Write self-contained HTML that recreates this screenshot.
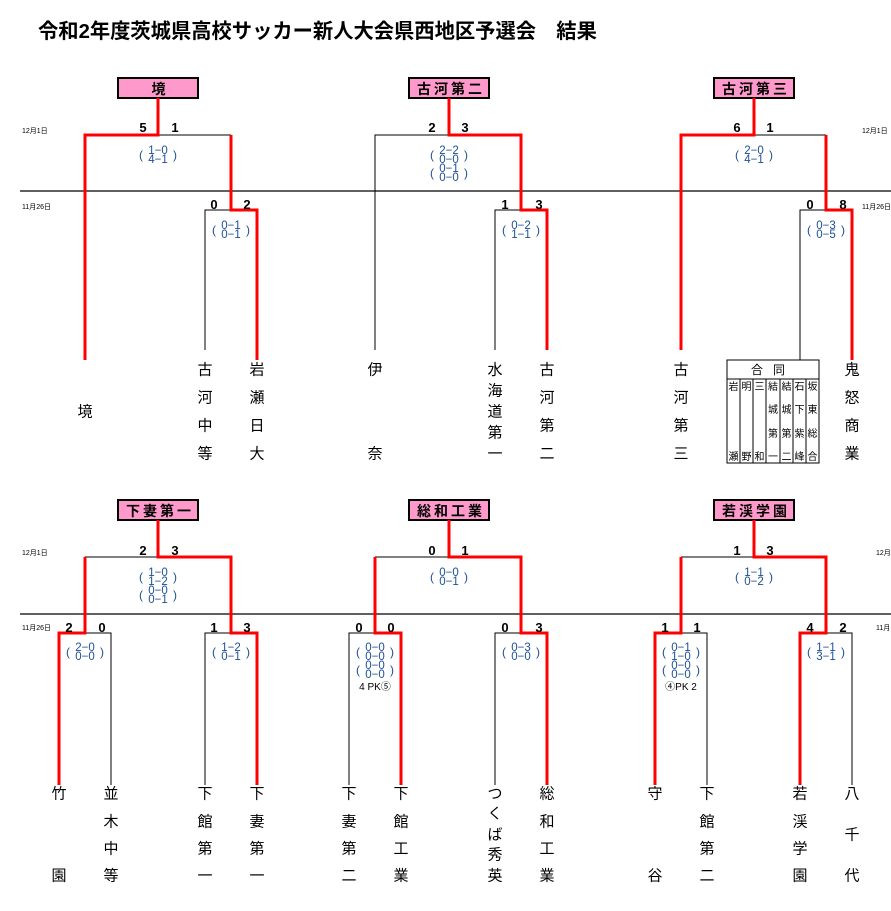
<!DOCTYPE html>
<html><head><meta charset="utf-8"><style>
body{margin:0;background:#fff}
svg{display:block}
text{font-family:"Liberation Sans","Noto Sans CJK JP",sans-serif}
.t{font-size:20.3px;font-weight:bold}
.b{font-size:14px;font-weight:bold;letter-spacing:3px}
.s{font-size:13px;font-weight:bold}
.d{font-size:7px}
.i{font-size:11.5px;fill:#1d4f96}
.p{font-size:12px;fill:#1d4f96}
.n{font-size:15px}
.j{font-size:10px}
</style></head><body>
<svg width="891" height="911" viewBox="0 0 891 911" xmlns="http://www.w3.org/2000/svg">
<text x="38" y="38" class="t">令和2年度茨城県高校サッカー新人大会県西地区予選会　結果</text>
<g stroke="#000" stroke-width="1.3" fill="none">
<line x1="20" y1="191" x2="891" y2="191"/>
<line x1="20" y1="614" x2="891" y2="614"/>
</g>
<g class="d"><text x="22" y="133">12月1日</text><text x="22" y="209">11月26日</text><text x="862" y="133">12月1日</text><text x="862" y="209">11月26日</text>
<text x="22" y="555">12月1日</text><text x="22" y="630">11月26日</text><text x="876" y="555">12月</text><text x="876" y="630">11月</text></g>
<g stroke="#000" stroke-width="2" fill="#ff99cc">
<rect x="118" y="78" width="80" height="20"/><rect x="409" y="78" width="80" height="20"/><rect x="714" y="78" width="80" height="20"/>
<rect x="118" y="500" width="80" height="20"/><rect x="409" y="500" width="80" height="20"/><rect x="714" y="500" width="80" height="20"/>
</g>
<g class="b" text-anchor="middle">
<text x="160" y="94">境</text><text x="451" y="94">古河第二</text><text x="756" y="94">古河第三</text>
<text x="160" y="516">下妻第一</text><text x="451" y="516">総和工業</text><text x="756" y="516">若渓学園</text>
</g>
<g stroke="#000" stroke-width="1" fill="none">
<path d="M158 135H231"/><path d="M205 350V210H231"/>
<path d="M375 350V135H449"/><path d="M495 350V210H521"/>
<path d="M754 135H826"/><path d="M800 360V210H826"/>
<path d="M85 557H158"/><path d="M85 633H111V785"/><path d="M205 785V633H231"/>
<path d="M375 557H449"/><path d="M349 785V633H375"/><path d="M495 785V633H521"/>
<path d="M681 557H754"/><path d="M681 633H707V785"/><path d="M826 633H852V785"/>
</g>
<g stroke="#f00" stroke-width="3" fill="none">
<path d="M158 98V135H85V360"/><path d="M231 135V210H257V360"/>
<path d="M449 98V135H521V210H547V350"/>
<path d="M754 98V135H681V350"/><path d="M826 135V210H852V360"/>
<path d="M158 520V557H231V633H257V785"/><path d="M85 557V633H59V785"/>
<path d="M449 520V557H521V633H547V785"/><path d="M375 557V633H401V785"/>
<path d="M754 520V557H826V633H800V785"/><path d="M681 557V633H655V785"/>
</g>
<g class="s" text-anchor="middle">
<text x="143" y="132">5</text><text x="175" y="132">1</text>
<text x="214" y="209">0</text><text x="247" y="209">2</text>
<text x="432" y="132">2</text><text x="465" y="132">3</text>
<text x="505" y="209">1</text><text x="539" y="209">3</text>
<text x="737" y="132">6</text><text x="770" y="132">1</text>
<text x="810" y="209">0</text><text x="843" y="209">8</text>
<text x="143" y="555">2</text><text x="175" y="555">3</text>
<text x="69" y="632">2</text><text x="102" y="632">0</text>
<text x="214" y="632">1</text><text x="247" y="632">3</text>
<text x="432" y="555">0</text><text x="465" y="555">1</text>
<text x="359" y="632">0</text><text x="391" y="632">0</text>
<text x="505" y="632">0</text><text x="539" y="632">3</text>
<text x="737" y="555">1</text><text x="770" y="555">3</text>
<text x="665" y="632">1</text><text x="697" y="632">1</text>
<text x="810" y="632">4</text><text x="843" y="632">2</text>
</g>
<g class="i" text-anchor="middle">
<text x="158" y="154">1−0</text><text x="158" y="163">4−1</text>
<text x="231" y="229">0−1</text><text x="231" y="238">0−1</text>
<text x="449" y="154">2−2</text><text x="449" y="163">0−0</text><text x="449" y="172">0−1</text><text x="449" y="181">0−0</text>
<text x="521" y="229">0−2</text><text x="521" y="238">1−1</text>
<text x="754" y="154">2−0</text><text x="754" y="163">4−1</text>
<text x="826" y="229">0−3</text><text x="826" y="238">0−5</text>
<text x="158" y="576">1−0</text><text x="158" y="585">1−2</text><text x="158" y="594">0−0</text><text x="158" y="603">0−1</text>
<text x="85" y="651">2−0</text><text x="85" y="660">0−0</text>
<text x="231" y="651">1−2</text><text x="231" y="660">0−1</text>
<text x="449" y="576">0−0</text><text x="449" y="585">0−1</text>
<text x="375" y="651">0−0</text><text x="375" y="660">0−0</text><text x="375" y="669">0−0</text><text x="375" y="678">0−0</text>
<text x="521" y="651">0−3</text><text x="521" y="660">0−0</text>
<text x="754" y="576">1−1</text><text x="754" y="585">0−2</text>
<text x="681" y="651">0−1</text><text x="681" y="660">1−0</text><text x="681" y="669">0−0</text><text x="681" y="678">0−0</text>
<text x="826" y="651">1−1</text><text x="826" y="660">3−1</text>
</g>
<g class="p" text-anchor="middle">
<text x="141" y="159">(</text><text x="175" y="159">)</text>
<text x="214" y="234">(</text><text x="248" y="234">)</text>
<text x="432" y="159">(</text><text x="466" y="159">)</text><text x="432" y="177">(</text><text x="466" y="177">)</text>
<text x="504" y="234">(</text><text x="538" y="234">)</text>
<text x="737" y="159">(</text><text x="771" y="159">)</text>
<text x="809" y="234">(</text><text x="843" y="234">)</text>
<text x="141" y="581">(</text><text x="175" y="581">)</text><text x="141" y="599">(</text><text x="175" y="599">)</text>
<text x="68" y="656">(</text><text x="102" y="656">)</text>
<text x="214" y="656">(</text><text x="248" y="656">)</text>
<text x="432" y="581">(</text><text x="466" y="581">)</text>
<text x="358" y="656">(</text><text x="392" y="656">)</text><text x="358" y="674">(</text><text x="392" y="674">)</text>
<text x="504" y="656">(</text><text x="538" y="656">)</text>
<text x="737" y="581">(</text><text x="771" y="581">)</text>
<text x="664" y="656">(</text><text x="698" y="656">)</text><text x="664" y="674">(</text><text x="698" y="674">)</text>
<text x="809" y="656">(</text><text x="843" y="656">)</text>
</g>
<g text-anchor="middle" style="font-size:10px">
<text x="375" y="690">4 PK⑤</text><text x="681" y="690">④PK 2</text>
</g>
<g stroke="#000" stroke-width="1" fill="none">
<rect x="727" y="360" width="92" height="103"/>
<line x1="727" y1="379" x2="819" y2="379"/>
<line x1="740" y1="379" x2="740" y2="463"/><line x1="753" y1="379" x2="753" y2="463"/><line x1="766" y1="379" x2="766" y2="463"/>
<line x1="780" y1="379" x2="780" y2="463"/><line x1="793" y1="379" x2="793" y2="463"/><line x1="806" y1="379" x2="806" y2="463"/>
</g>
<text x="773" y="374" text-anchor="middle" style="font-size:12px;letter-spacing:10px">合同</text>
<g class="j" text-anchor="middle">
<text x="733.5" y="390">岩</text><text x="733.5" y="460">瀬</text>
<text x="746.5" y="390">明</text><text x="746.5" y="460">野</text>
<text x="759.5" y="390">三</text><text x="759.5" y="460">和</text>
<text x="773" y="390">結</text><text x="773" y="413">城</text><text x="773" y="437">第</text><text x="773" y="460">一</text>
<text x="786.5" y="390">結</text><text x="786.5" y="413">城</text><text x="786.5" y="437">第</text><text x="786.5" y="460">二</text>
<text x="799.5" y="390">石</text><text x="799.5" y="413">下</text><text x="799.5" y="437">紫</text><text x="799.5" y="460">峰</text>
<text x="812.5" y="390">坂</text><text x="812.5" y="413">東</text><text x="812.5" y="437">総</text><text x="812.5" y="460">合</text>
</g>
<g class="n" text-anchor="middle" dominant-baseline="central">
<text x="85" y="412">境</text>
<text x="205" y="370">古</text><text x="205" y="398">河</text><text x="205" y="426">中</text><text x="205" y="454">等</text>
<text x="257" y="370">岩</text><text x="257" y="398">瀬</text><text x="257" y="426">日</text><text x="257" y="454">大</text>
<text x="375" y="370">伊</text><text x="375" y="454">奈</text>
<text x="495" y="370">水</text><text x="495" y="391">海</text><text x="495" y="412">道</text><text x="495" y="433">第</text><text x="495" y="454">一</text>
<text x="547" y="370">古</text><text x="547" y="398">河</text><text x="547" y="426">第</text><text x="547" y="454">二</text>
<text x="681" y="370">古</text><text x="681" y="398">河</text><text x="681" y="426">第</text><text x="681" y="454">三</text>
<text x="852" y="370">鬼</text><text x="852" y="398">怒</text><text x="852" y="426">商</text><text x="852" y="454">業</text>
<text x="59" y="794">竹</text><text x="59" y="876">園</text>
<text x="111" y="794">並</text><text x="111" y="822">木</text><text x="111" y="849">中</text><text x="111" y="876">等</text>
<text x="205" y="794">下</text><text x="205" y="822">館</text><text x="205" y="849">第</text><text x="205" y="876">一</text>
<text x="257" y="794">下</text><text x="257" y="822">妻</text><text x="257" y="849">第</text><text x="257" y="876">一</text>
<text x="349" y="794">下</text><text x="349" y="822">妻</text><text x="349" y="849">第</text><text x="349" y="876">二</text>
<text x="401" y="794">下</text><text x="401" y="822">館</text><text x="401" y="849">工</text><text x="401" y="876">業</text>
<text x="495" y="794">つ</text><text x="495" y="814">く</text><text x="495" y="835">ば</text><text x="495" y="855">秀</text><text x="495" y="876">英</text>
<text x="547" y="794">総</text><text x="547" y="822">和</text><text x="547" y="849">工</text><text x="547" y="876">業</text>
<text x="655" y="794">守</text><text x="655" y="876">谷</text>
<text x="707" y="794">下</text><text x="707" y="822">館</text><text x="707" y="849">第</text><text x="707" y="876">二</text>
<text x="800" y="794">若</text><text x="800" y="822">渓</text><text x="800" y="849">学</text><text x="800" y="876">園</text>
<text x="852" y="794">八</text><text x="852" y="835">千</text><text x="852" y="876">代</text>
</g>
</svg>
</body></html>
